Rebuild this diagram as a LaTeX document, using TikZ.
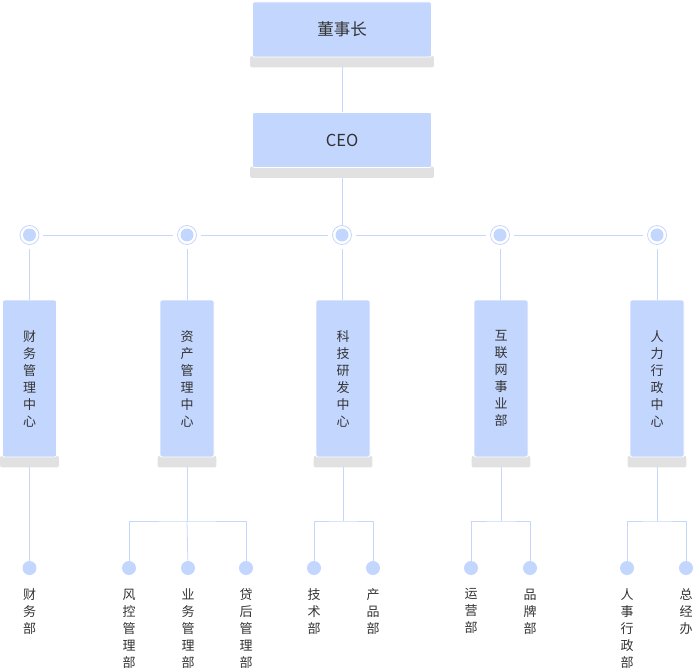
\documentclass[tikz,border=0pt]{standalone}
\usepackage{fontspec}
\newfontfamily\cjk{Noto Sans CJK SC}
\usetikzlibrary{backgrounds,calc}
\definecolor{boxblue}{HTML}{C3D6FE}
\definecolor{plinthgray}{HTML}{E1E1E1}
\definecolor{wire}{HTML}{C6D7FC}
\definecolor{ink}{HTML}{333333}
% grey base under a box, 10 units below its lower edge
\newcommand\drawplinth[1]{%
  \begin{scope}[on background layer]
    \fill[plinthgray, rounded corners=2pt] ($(#1.south west)+(-2,-1.5)$) rectangle ($(#1.south east)+(2,10)$);
  \end{scope}
  \coordinate (#1b) at ($(#1.south)+(0,10)$);}
\begin{document}
\begin{tikzpicture}[x=1pt,y=-1pt,
  wide/.style={fill=boxblue, draw=white, line width=0.8pt, rounded corners=2pt,
    minimum width=179pt, minimum height=55pt, inner sep=0pt, text=ink,
    font=\cjk\fontsize{16.5}{20}\selectfont},
  tall/.style={fill=boxblue, draw=white, line width=0.8pt, rounded corners=2pt,
    minimum width=54pt, minimum height=157pt, inner sep=0pt, text=ink, align=center,
    font=\cjk\fontsize{13}{17}\selectfont},
  hub/.style={circle, draw=wire, line width=0.8pt, fill=white, minimum size=19pt, inner sep=0pt,
    path picture={\fill[boxblue] (path picture bounding box.center) circle (6.5pt);}},
  dot/.style={circle, fill=boxblue, minimum size=14pt, inner sep=0pt},
  lbl/.style={anchor=north, inner sep=0pt, align=center, text=ink,
    font=\cjk\fontsize{13}{17}\selectfont},
  link/.style={draw=wire, line width=0.8pt},
]
\useasboundingbox (0,0) rectangle (695,668);

% top of the chart
\node[wide] (chair) at (342,29.5) {董事长};
\drawplinth{chair}
\node[wide] (ceo) at (342,140) {CEO};
\drawplinth{ceo}
\draw[link] (chairb) -- (ceo.north);

% hubs of the five centres
\foreach \n/\x in {1/29.5, 2/187, 3/342, 4/500, 5/657}
  \node[hub] (h\n) at (\x,235) {};
\draw[link] (ceob) -- (h3.north);
\foreach \a/\b in {1/2, 2/3, 3/4, 4/5}
  \draw[link, shorten <=4pt, shorten >=4pt] (h\a) -- (h\b);

% the five centres
\node[tall] (d1) at (29.5,378.5) {财\\务\\管\\理\\中\\心};
\node[tall] (d2) at (187,378.5) {资\\产\\管\\理\\中\\心};
\node[tall] (d3) at (343,378.5) {科\\技\\研\\发\\中\\心};
\node[tall] (d4) at (501,378.5) {互\\联\\网\\事\\业\\部};
\node[tall] (d5) at (657,378.5) {人\\力\\行\\政\\中\\心};
\foreach \n in {1,...,5} {
  \drawplinth{d\n}
  \draw[link, shorten <=4pt] (h\n) -- (h\n |- d\n.north);
}

% departments
\foreach \name/\x/\txt in {
  c11/29.5/财\\务\\部,
  c21/129/风\\控\\管\\理\\部, c22/188/业\\务\\管\\理\\部, c23/246/贷\\后\\管\\理\\部,
  c31/314/技\\术\\部, c32/373/产\\品\\部,
  c41/471/运\\营\\部, c42/530/品\\牌\\部,
  c51/627/人\\事\\行\\政\\部, c52/686/总\\经\\办} {
  \node[dot] (\name) at (\x,568) {};
  \node[lbl] (\name t) at (\x,588.5) {\txt};
}

% branches from the centres to their departments
\draw[link] (d1b) -- (c11);
\foreach \n/\l/\r in {2/c21/c23, 3/c31/c32, 4/c41/c42, 5/c51/c52} {
  \coordinate (j\n) at (d\n b |- 0,521);
  \draw[link] (d\n b) -- (j\n);
  \draw[link] (\l) |- (j\n) -| (\r);
}
\draw[link] (j2) -- (c22);
\end{tikzpicture}
\end{document}
